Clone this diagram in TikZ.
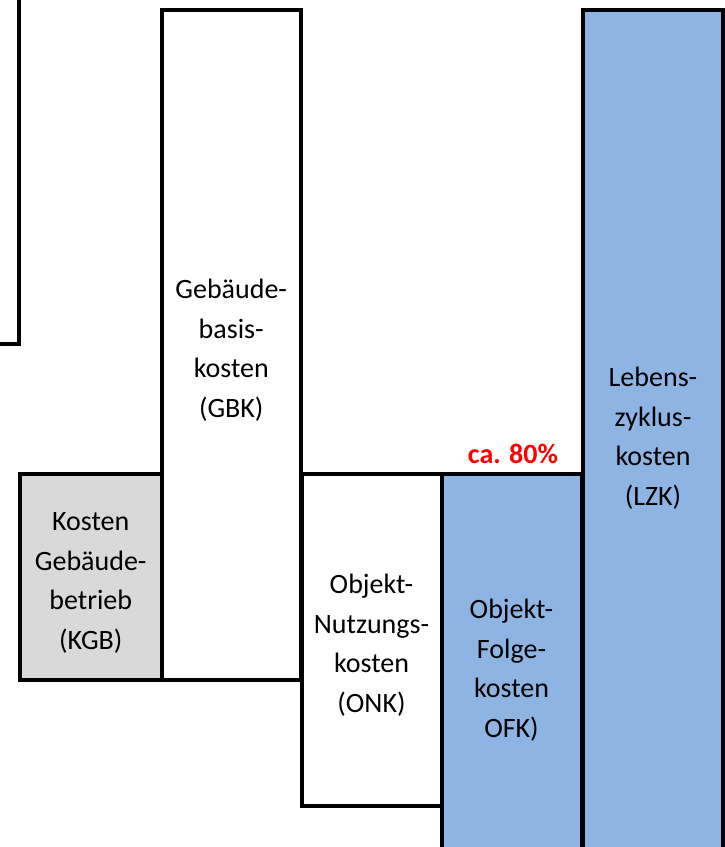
\documentclass[tikz,border=0pt]{standalone}
\usepackage{fontspec}
\setmainfont{Carlito}
\definecolor{lzkblue}{HTML}{8EB4E3}
\definecolor{kgbgray}{HTML}{D9D9D9}
\definecolor{markred}{HTML}{FF0000}
% invisible strut that evens out the height of the first text line
\newcommand{\toprow}{\rule{0pt}{30pt}}
\begin{document}
\begin{tikzpicture}[x=1pt,y=-1pt,
  bar/.style={draw=black, line width=4pt, rectangle, inner sep=0pt, outer sep=0pt,
    align=center, font=\fontsize{28}{39.5}\selectfont},
  share/.style={text=markred, inner sep=0pt, font=\fontsize{28}{34}\selectfont\bfseries},
]
\useasboundingbox (0,0) rectangle (725,847);
\clip (0,0) rectangle (725,847);
% preceding cost block, mostly outside the frame
\node[bar, minimum width=219pt, minimum height=544pt] (prev) at (-90.5,72) {};
% cost bars
\node[bar, minimum width=139.5pt, minimum height=670pt] (gbk) at (231.25,345)
  {\toprow Gebäude-\\basis-\\kosten\\(GBK)};
\node[bar, fill=kgbgray, minimum width=141.5pt, minimum height=206pt] (kgb) at (90.75,577)
  {\toprow Kosten\\Gebäude-\\betrieb\\(KGB)};
\node[bar, minimum width=140pt, minimum height=332pt] (onk) at (371.5,640)
  {\toprow Objekt-\\Nutzungs-\\kosten\\(ONK)};
\node[bar, fill=lzkblue, minimum width=140pt, minimum height=382pt] (ofk) at (511.5,665)
  {\toprow Objekt-\\Folge-\\kosten\\OFK)};
\node[bar, fill=lzkblue, minimum width=140pt, minimum height=846pt] (lzk) at (653,433)
  {\toprow Lebens-\\zyklus-\\kosten\\(LZK)};
% share label above the follow-up costs
\node[share] (pct) at (513,454) {ca. 80\%};
\end{tikzpicture}
\end{document}
